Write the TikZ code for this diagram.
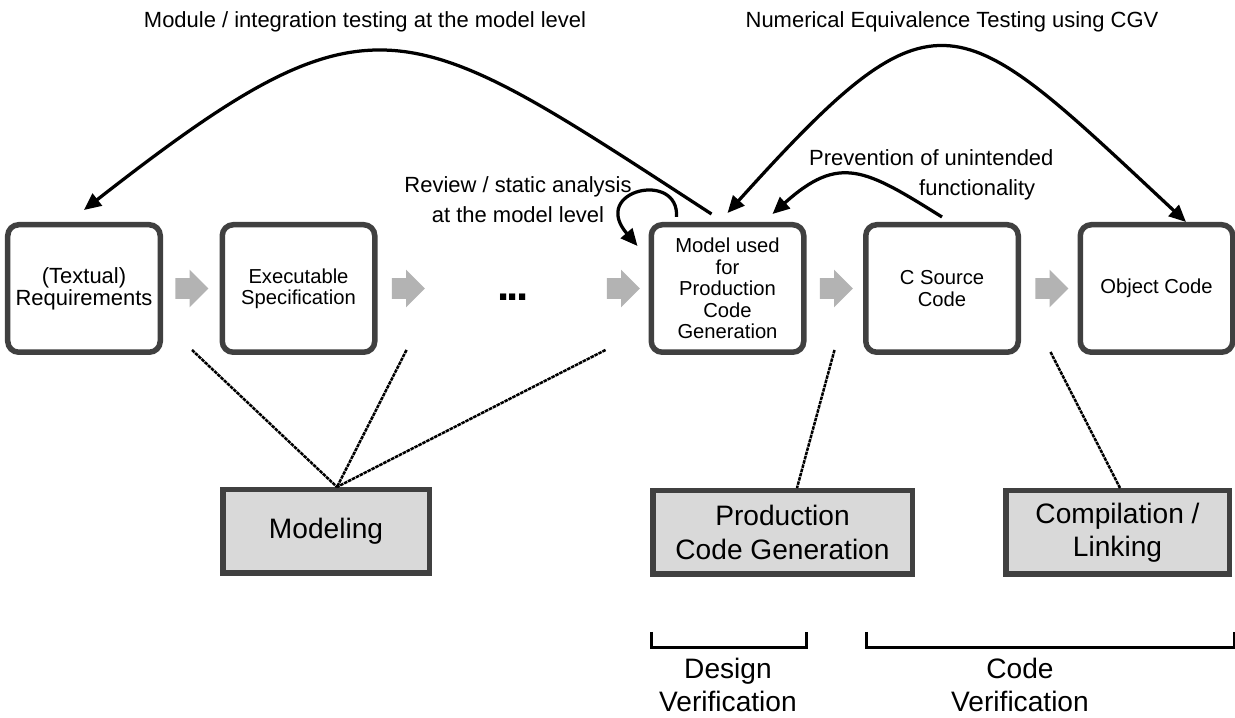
\documentclass[tikz,border=0pt]{standalone}
\usepackage{fontspec}
\setmainfont{Liberation Sans}
\usetikzlibrary{positioning, shapes.arrows, arrows.meta, calc}

\definecolor{boxborder}{HTML}{404040}
\definecolor{boxfill}{HTML}{D9D9D9}
\definecolor{flowgray}{HTML}{B3B3B3}

\begin{document}
\begin{tikzpicture}[
    artifact/.style={draw=boxborder, line width=0.11cm, rounded corners=0.22cm, fill=white, minimum width=3.05cm, minimum height=2.55cm, align=center, inner sep=1pt, font=\fontsize{11.5}{12.2}\selectfont},
    activity/.style={draw=boxborder, line width=0.11cm, fill=boxfill, minimum height=1.67cm, align=center, font=\fontsize{16}{19}\selectfont},
    flowarrow/.style={single arrow, fill=flowgray, inner sep=0.2cm, minimum height=0.66cm, single arrow head extend=0.17cm, anchor=tail},
    curvearrow/.style={line width=0.065cm, -{Triangle[length=0.34cm, width=0.3cm]}},
    assoc/.style={line width=0.05cm, dash pattern=on 2pt off 0.5pt},
    bracket/.style={line width=0.06cm},
    note/.style={font=\fontsize{12.5}{17}\selectfont},
    phase/.style={align=center, font=\fontsize{16}{18.5}\selectfont}
]
\useasboundingbox (0,0) rectangle (24.7,-14.36);

% artefacts
\node[artifact, font=\fontsize{12.5}{11.5}\selectfont] (req) at (1.68,-5.77) {(Textual)\\Requirements};
\node[artifact, right=1.13cm of req] (exec) {Executable\\Specification};
\node[artifact, right=5.42cm of exec] (model) {Model used\\for\\Production\\Code\\Generation};
\node[artifact, right=1.13cm of model] (csrc) {C Source\\Code};
\node[artifact, right=1.13cm of csrc] (obj) {Object Code};
\node[font=\fontsize{25}{25}\selectfont\bfseries, yshift=-0.17cm] (dots) at ($(exec)!0.5!(model)$) {.\kern-1.5pt.\kern-1.5pt.};

% flow
\node[flowarrow] (f1) at ([xshift=0.24cm]req.east) {};
\node[flowarrow] (f2) at ([xshift=0.28cm]exec.east) {};
\node[flowarrow] (f3) at ([xshift=-0.84cm]model.west) {};
\node[flowarrow] (f4) at ([xshift=0.26cm]model.east) {};
\node[flowarrow] (f5) at ([xshift=0.28cm]csrc.east) {};

% activities
\node[activity, minimum width=4.13cm] (modeling) at (6.52,-10.63) {Modeling};
\node[activity, minimum width=5.19cm] (prodgen) at (15.65,-10.65) {Production\\Code Generation};
\node[activity, minimum width=4.47cm] (compile) at (22.35,-10.65) {Compilation /\\Linking};

\coordinate (g1) at ([xshift=0.58cm, yshift=0.1cm]req.south east);
\coordinate (g2) at ([xshift=0.58cm, yshift=0.1cm]exec.south east);
\coordinate (g3) at ([xshift=-0.86cm, yshift=0.1cm]model.south west);
\coordinate (g4) at ([xshift=0.56cm, yshift=0.1cm]model.south east);
\coordinate (g5) at ([xshift=-0.54cm, yshift=0.06cm]obj.south west);

\draw[assoc] (g1) -- ([xshift=0.22cm]modeling.north);
\draw[assoc] (g2) -- ([xshift=0.22cm]modeling.north);
\draw[assoc] (g3) -- ([xshift=0.22cm]modeling.north);
\draw[assoc] (g4) -- ([xshift=0.29cm]prodgen.north);
\draw[assoc] (g5) -- ([xshift=0.05cm]compile.north);

% verification loops
\draw[curvearrow] ([xshift=-0.32cm, yshift=0.16cm]model.north) to[out=147, in=38, looseness=1.5] ([yshift=0.24cm]req.north);
\draw[curvearrow, {Triangle[length=0.34cm, width=0.3cm]}-{Triangle[length=0.34cm, width=0.3cm]}] ([yshift=0.18cm]model.north) to[out=48, in=137, looseness=1.76] ([xshift=0.59cm]obj.north);
\draw[curvearrow] ([yshift=0.1cm]csrc.north) to[out=148, in=42, looseness=1.36] ([xshift=0.9cm, yshift=0.16cm]model.north);
\draw[curvearrow] ([xshift=-1.02cm, yshift=0.1cm]model.north) .. controls +(0.06,0.94) and +(-0.96,1.12) .. ([xshift=-0.22cm, yshift=-0.48cm]model.north west);

% labels
\node[note] (modtest) at (7.3,-0.44) {Module / integration testing at the model level};
\node[note] (cgvtest) at (19.04,-0.44) {Numerical Equivalence Testing using CGV};
\node[note, align=center] (review) at (10.36,-4.0) {Review / static analysis\\at the model level};
\node[note, align=left, anchor=west] (prevent) at (16.06,-3.5) {Prevention of unintended\\\hspace*{2.2cm}functionality};

% phases
\draw[bracket] (13.02,-12.64) |- (16.12,-12.96) -- (16.12,-12.64);
\draw[bracket] (17.32,-12.64) |- (24.68,-12.96) -- (24.68,-12.64);
\node[phase] (designver) at (14.56,-13.7) {Design\\Verification};
\node[phase] (codever) at (20.4,-13.7) {Code\\Verification};

\end{tikzpicture}
\end{document}
